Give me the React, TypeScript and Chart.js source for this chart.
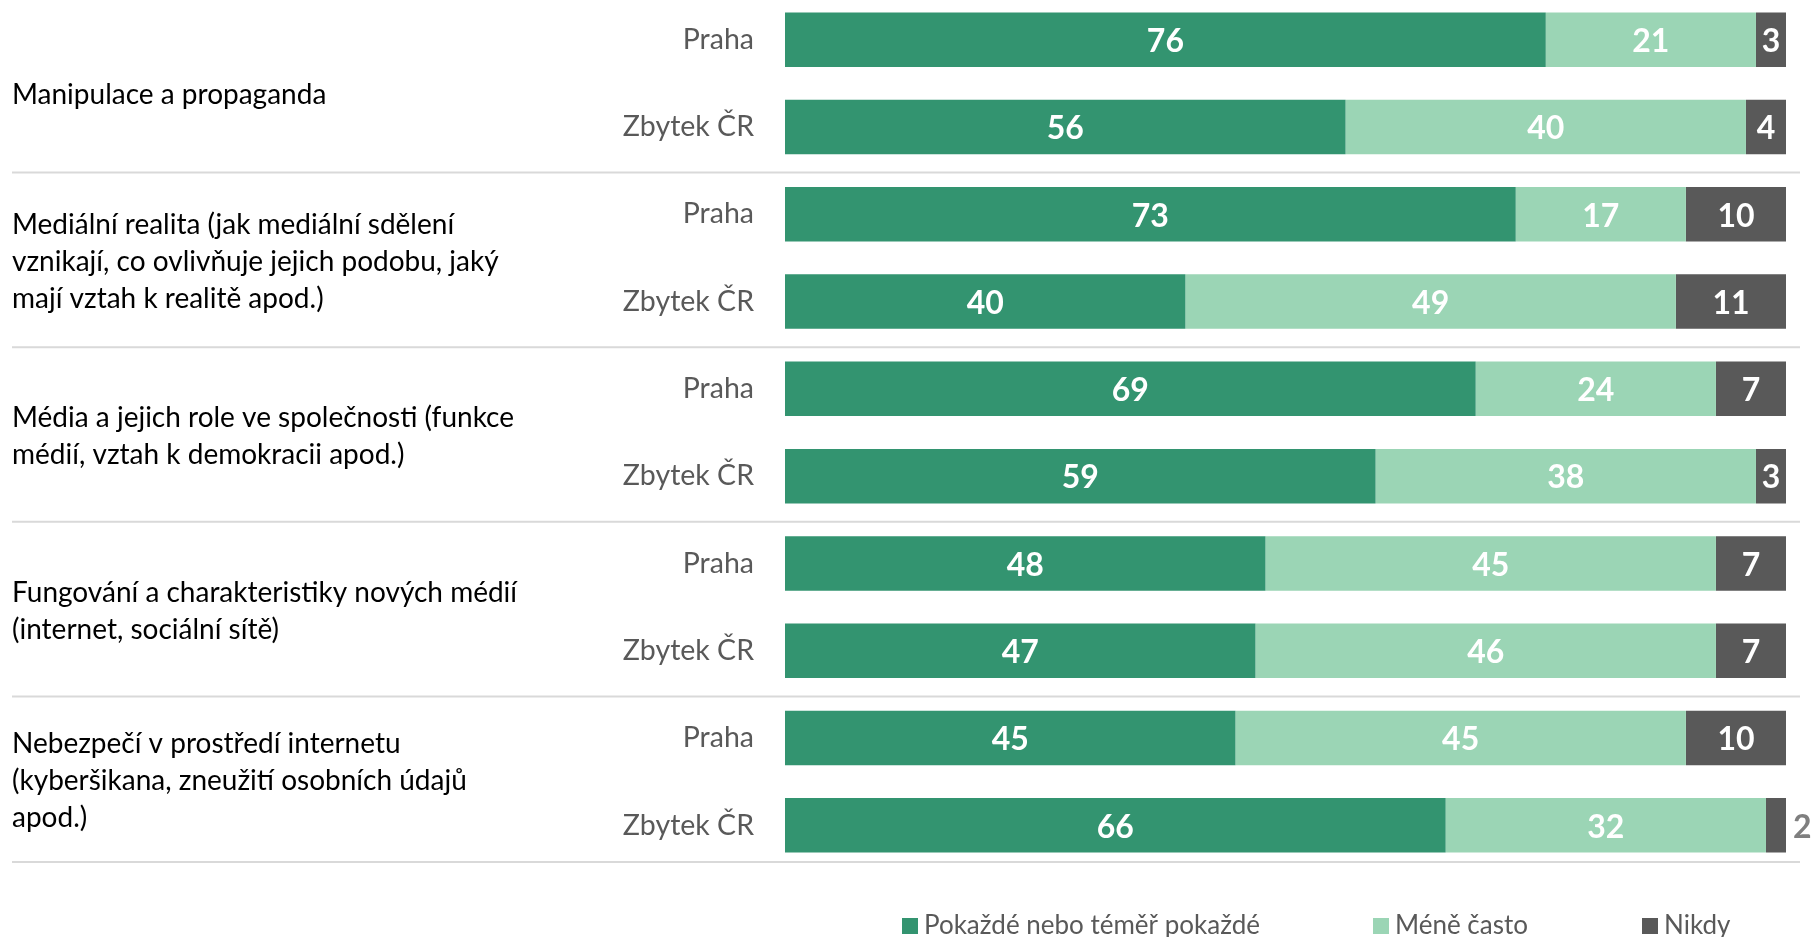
import React, { useEffect, useRef } from 'react';
import { Chart, registerables } from 'chart.js';

Chart.register(...registerables);

const rowLabels = ['Praha', 'Zbytek ČR', 'Praha', 'Zbytek ČR', 'Praha', 'Zbytek ČR', 'Praha', 'Zbytek ČR', 'Praha', 'Zbytek ČR'];

const groupLabels = [
  ['Manipulace a propaganda'],
  ['Mediální realita (jak mediální sdělení', 'vznikají, co ovlivňuje jejich podobu, jaký', 'mají vztah k realitě apod.)'],
  ['Média a jejich role ve společnosti (funkce', 'médií, vztah k demokracii apod.)'],
  ['Fungování a charakteristiky nových médií', '(internet, sociální sítě)'],
  ['Nebezpečí v prostředí internetu', '(kyberšikana, zneužití osobních údajů', 'apod.)'],
];

const seriesNames = ['Pokaždé nebo téměř pokaždé', 'Méně často', 'Nikdy'];
const often = [76, 56, 73, 40, 69, 59, 48, 47, 45, 66];
const lessOften = [21, 40, 17, 49, 24, 38, 45, 46, 45, 32];
const never = [3, 4, 10, 11, 7, 3, 7, 7, 10, 2];
const seriesColors = ['#339470', '#9bd5b5', '#595959'];

const FONT = 'Lato, "Open Sans", sans-serif';

function separatorYs(chart: any): number[] {
  const y = chart.scales.y;
  const band = y.getPixelForValue(1) - y.getPixelForValue(0);
  const out: number[] = [];
  for (let g = 0; g < groupLabels.length; g++) {
    if (g < groupLabels.length - 1) {
      out.push((y.getPixelForValue(2 * g + 1) + y.getPixelForValue(2 * g + 2)) / 2 + 2);
    } else {
      out.push(y.getPixelForValue(2 * g + 1) + band * 0.42);
    }
  }
  return out;
}

const separatorPlugin = {
  id: 'separators',
  beforeDatasetsDraw(chart: any) {
    const ctx = chart.ctx;
    ctx.save();
    ctx.strokeStyle = '#d9d9d9';
    ctx.lineWidth = 2;
    separatorYs(chart).forEach((py) => {
      ctx.beginPath();
      ctx.moveTo(12, py);
      ctx.lineTo(1800, py);
      ctx.stroke();
    });
    ctx.restore();
  },
};

const groupLabelPlugin = {
  id: 'groupLabels',
  afterDraw(chart: any) {
    const ctx = chart.ctx;
    const seps = separatorYs(chart);
    const firstBar = chart.getDatasetMeta(0).data[0];
    const top = firstBar.y - firstBar.height / 2;
    const lh = 37;
    ctx.save();
    ctx.font = '28px ' + FONT;
    ctx.fillStyle = '#000000';
    ctx.textAlign = 'left';
    ctx.textBaseline = 'middle';
    groupLabels.forEach((lines, g) => {
      const upper = g === 0 ? top : seps[g - 1];
      const cy = (upper + seps[g]) / 2 + 2;
      const start = cy - ((lines.length - 1) * lh) / 2;
      lines.forEach((t, i) => ctx.fillText(t, 12, start + i * lh));
    });
    ctx.restore();
  },
};

const valueLabelPlugin = {
  id: 'valueLabels',
  afterDatasetsDraw(chart: any) {
    const ctx = chart.ctx;
    ctx.save();
    ctx.font = 'bold 32px ' + FONT;
    ctx.textBaseline = 'middle';
    chart.data.datasets.forEach((ds: any, di: number) => {
      const meta = chart.getDatasetMeta(di);
      meta.data.forEach((bar: any, i: number) => {
        const v = ds.data[i];
        const text = String(v);
        const w = ctx.measureText(text).width;
        const left = Math.min(bar.x, bar.base);
        const right = Math.max(bar.x, bar.base);
        if (w + 6 > right - left) {
          ctx.fillStyle = '#7f7f7f';
          ctx.textAlign = 'left';
          ctx.fillText(text, right + 7, bar.y + 2);
        } else {
          ctx.fillStyle = '#ffffff';
          ctx.textAlign = 'center';
          ctx.fillText(text, (left + right) / 2, bar.y + 2);
        }
      });
    });
    ctx.restore();
  },
};

const legendPlugin = {
  id: 'customLegend',
  afterDraw(chart: any) {
    const ctx = chart.ctx;
    const xs = [902, 1373, 1642];
    const cy = 930;
    ctx.save();
    ctx.font = '26px ' + FONT;
    ctx.textBaseline = 'middle';
    ctx.textAlign = 'left';
    chart.data.datasets.forEach((ds: any, i: number) => {
      ctx.fillStyle = ds.backgroundColor;
      ctx.fillRect(xs[i], cy - 8, 16, 16);
      ctx.fillStyle = '#595959';
      ctx.fillText(ds.label, xs[i] + 22, cy);
    });
    ctx.restore();
  },
};

export default function App() {
  const ref = useRef<HTMLCanvasElement>(null);
  useEffect(() => {
    if (!ref.current) return;
    const chart = new Chart(ref.current, {
      type: 'bar',
      data: {
        labels: rowLabels,
        datasets: [often, lessOften, never].map((d, i) => ({
          label: seriesNames[i],
          data: d,
          backgroundColor: seriesColors[i],
          borderWidth: 0,
          categoryPercentage: 1,
          barPercentage: 0.624,
        })),
      },
      options: {
        indexAxis: 'y',
        animation: false,
        responsive: true,
        maintainAspectRatio: false,
        layout: { padding: { left: 0, right: 29, top: 0, bottom: 68 } },
        plugins: { legend: { display: false }, tooltip: { enabled: false } },
        scales: {
          x: { stacked: true, min: 0, max: 100, display: false },
          y: {
            stacked: true,
            grid: { display: false, drawTicks: false },
            border: { display: false },
            ticks: { font: { size: 28.5, family: FONT }, color: '#595959', padding: 31 },
            afterFit: (s: any) => {
              s.width = 785;
              s.paddingTop = 0;
              s.paddingBottom = 0;
            },
          },
        },
      },
      plugins: [separatorPlugin, groupLabelPlugin, valueLabelPlugin, legendPlugin],
    });
    return () => chart.destroy();
  }, []);
  return (
    <div style={{ position: 'fixed', left: 0, top: -4, width: 1815, height: 941 }}>
      <canvas ref={ref} />
    </div>
  );
}
